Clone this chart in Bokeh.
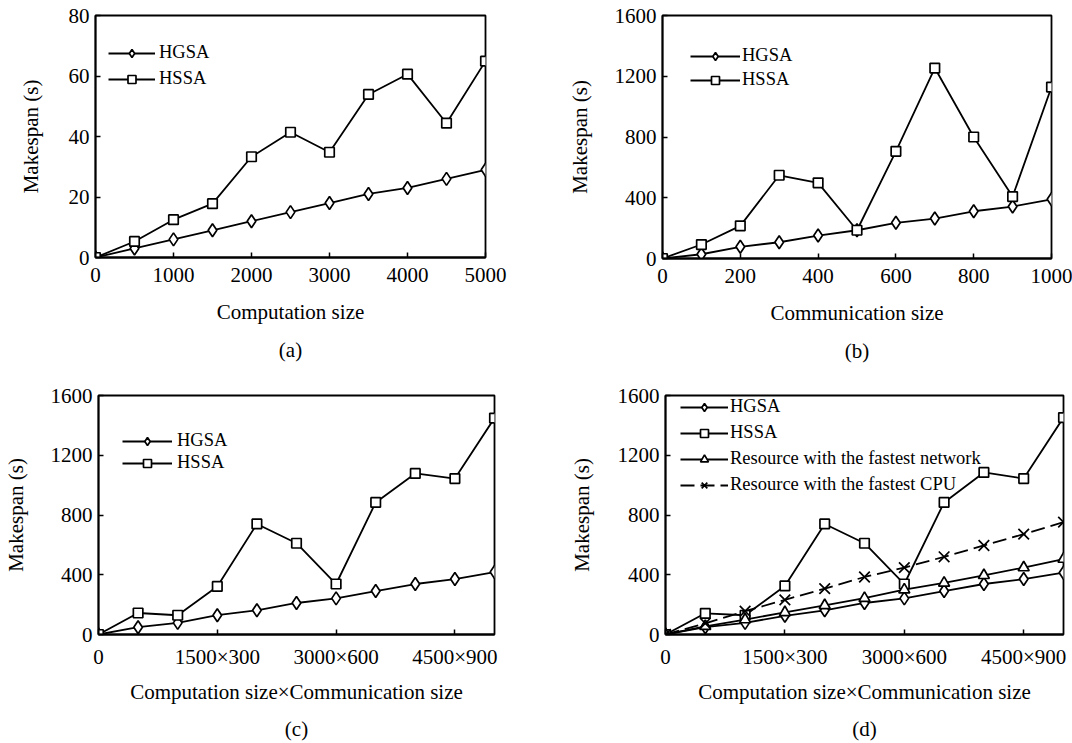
from bokeh.plotting import figure
from bokeh.models import Range1d, FixedTicker, Legend, LegendItem, Title
from bokeh.layouts import column, row
from bokeh.embed import file_html
from bokeh.resources import INLINE

# ---------------- data ----------------
comp_sizes = [0, 500, 1000, 1500, 2000, 2500, 3000, 3500, 4000, 4500, 5000]
hgsa_a = [0, 3, 6, 9, 12, 15, 18, 21, 23, 26, 29]
hssa_a = [0, 5.3, 12.5, 17.8, 33.3, 41.4, 34.8, 53.9, 60.6, 44.4, 64.9]

comm_sizes = [0, 100, 200, 300, 400, 500, 600, 700, 800, 900, 1000]
hgsa_b = [0, 28, 77, 107, 151, 186, 235, 263, 311, 342, 390]
hssa_b = [0, 92, 215, 548, 498, 186, 706, 1254, 800, 408, 1129]

prod_sizes = [0, 500, 1000, 1500, 2000, 2500, 3000, 3500, 4000, 4500, 5000]
hgsa_c = [0, 49, 78, 129, 162, 211, 242, 291, 338, 371, 418]
hssa_c = [0, 144, 129, 322, 740, 611, 338, 884, 1078, 1044, 1449]

hgsa_d = [0, 49, 78, 125, 162, 211, 242, 291, 338, 371, 414]
hssa_d = [0, 142, 129, 325, 740, 611, 338, 884, 1085, 1044, 1452]
net_d = [0, 55, 100, 148, 195, 243, 300, 345, 396, 448, 505]
cpu_d = [0, 75, 156, 232, 307, 385, 448, 520, 596, 672, 752]

x_ticks_a = [0, 1000, 2000, 3000, 4000, 5000]
x_ticks_b = [0, 200, 400, 600, 800, 1000]
x_ticks_cd = [0, 1500, 3000, 4500]
x_tick_labels_cd = ["0", "1500×300", "3000×600", "4500×900"]
y_ticks_a = [0, 20, 40, 60, 80]
y_ticks_big = [0, 400, 800, 1200, 1600]

series_names = ["HGSA", "HSSA", "Resource with the fastest network", "Resource with the fastest CPU"]
panel_labels = ["(a)", "(b)", "(c)", "(d)"]
x_titles = ["Computation size", "Communication size",
            "Computation size×Communication size", "Computation size×Communication size"]
y_title = "Makespan (s)"

FONT = "Liberation Serif"
LW = 1.8


def make_panel(fw, fh, borders, xr, yr, xticks, yticks, xtitle, ptitle,
               label_overrides=None, ylab_standoff=21, xlab_standoff=15, title_standoff=19):
    left, right, top, bottom = borders
    p = figure(frame_width=fw, frame_height=fh, x_range=Range1d(*xr), y_range=Range1d(*yr),
               output_backend="svg", toolbar_location=None, title=None,
               min_border_left=left, min_border_right=right,
               min_border_top=top, min_border_bottom=bottom)
    p.grid.visible = False
    p.background_fill_color = "white"
    p.border_fill_color = "white"
    p.outline_line_color = "black"
    p.outline_line_width = LW
    p.outline_line_alpha = 1.0
    p.xaxis.ticker = FixedTicker(ticks=xticks)
    p.yaxis.ticker = FixedTicker(ticks=yticks)
    if label_overrides:
        p.xaxis.major_label_overrides = label_overrides
    for ax in (p.xaxis, p.yaxis):
        ax.axis_line_width = LW
        ax.axis_line_color = "black"
        ax.major_tick_in = 5
        ax.major_tick_out = 0
        ax.major_tick_line_width = 1.5
        ax.minor_tick_line_color = None
        ax.major_label_text_font = FONT
        ax.major_label_text_font_size = "21px"
        ax.major_label_text_color = "black"
        ax.axis_label_text_font = FONT
        ax.axis_label_text_font_size = "21px"
        ax.axis_label_text_font_style = "normal"
        ax.axis_label_text_color = "black"
    p.xaxis.major_label_standoff = 10
    p.yaxis.major_label_standoff = 6
    p.xaxis.axis_label = xtitle
    p.xaxis.axis_label_standoff = xlab_standoff
    p.yaxis.axis_label = y_title
    p.yaxis.axis_label_standoff = ylab_standoff
    t = Title(text=ptitle, align="center", text_font=FONT, text_font_size="21px",
              text_font_style="normal", text_color="black", standoff=title_standoff)
    p.add_layout(t, "below")
    return p


def add_series(p, x, y, marker, size, dash="solid"):
    ln = p.line(x, y, line_color="black", line_width=LW, line_dash=dash)
    sc = p.scatter(x, y, marker=marker, size=size, fill_color="white",
                   line_color="black", line_width=1.7)
    return [ln, sc]


def add_legend(p, items, loc, spacing, glyph_width, standoff):
    lg = Legend(items=[LegendItem(label=n, renderers=r) for n, r in items],
                location=loc, padding=0, margin=0, spacing=spacing,
                glyph_width=glyph_width, glyph_height=20, label_height=20,
                label_standoff=standoff, label_text_font=FONT,
                label_text_font_size="18.5px", label_text_color="black",
                border_line_color=None, background_fill_alpha=0)
    p.add_layout(lg)


D_SIZE, S_SIZE, T_SIZE, X_SIZE = 13, 9.5, 11, 15

# ---------------- (a) ----------------
pa = make_panel(390, 242, (95, 79, 15, 123), (0, 5000), (0, 80), x_ticks_a, y_ticks_a,
                x_titles[0], panel_labels[0], ylab_standoff=23)
ra1 = add_series(pa, comp_sizes, hgsa_a, "diamond", D_SIZE)
ra2 = add_series(pa, comp_sizes, hssa_a, "square", S_SIZE)
add_legend(pa, [(series_names[0], ra1), (series_names[1], ra2)], (13, 168), 5, 47, 4)

# ---------------- (b) ----------------
pb = make_panel(389, 243, (95, 24, 15, 122), (0, 1000), (0, 1600), x_ticks_b, y_ticks_big,
                x_titles[1], panel_labels[1], ylab_standoff=20)
rb1 = add_series(pb, comm_sizes, hgsa_b, "diamond", D_SIZE)
rb2 = add_series(pb, comm_sizes, hssa_b, "square", S_SIZE)
add_legend(pb, [(series_names[0], rb1), (series_names[1], rb2)], (28, 168), 3, 50, 2)

# ---------------- (c) ----------------
overrides = {v: s for v, s in zip(x_ticks_cd, x_tick_labels_cd)}
pc = make_panel(396, 239, (98, 72, 15, 109), (0, 5000), (0, 1600), x_ticks_cd, y_ticks_big,
                x_titles[2], panel_labels[2], label_overrides=overrides,
                ylab_standoff=20, xlab_standoff=8, title_standoff=17)
rc1 = add_series(pc, prod_sizes, hgsa_c, "diamond", D_SIZE)
rc2 = add_series(pc, prod_sizes, hssa_c, "square", S_SIZE)
add_legend(pc, [(series_names[0], rc1), (series_names[1], rc2)], (24, 161), 1, 50, 5)

# ---------------- (d) ----------------
pd_ = make_panel(398, 239, (95, 13, 14, 110), (0, 5000), (0, 1600), x_ticks_cd, y_ticks_big,
                 x_titles[3], panel_labels[3], label_overrides=overrides,
                 ylab_standoff=21, xlab_standoff=8, title_standoff=17)
rd1 = add_series(pd_, prod_sizes, hgsa_d, "diamond", D_SIZE)
rd2 = add_series(pd_, prod_sizes, hssa_d, "square", S_SIZE)
rd3 = add_series(pd_, prod_sizes, net_d, "triangle", T_SIZE)
rd4 = add_series(pd_, prod_sizes, cpu_d, "x", X_SIZE, dash="14 6")
add_legend(pd_, [(series_names[0], rd1), (series_names[1], rd2),
                 (series_names[2], rd3), (series_names[3], rd4)], (15, 139), 5, 48, 2)

layout = column(row(pa, pb), row(pc, pd_))
open("out.html", "w").write(file_html(layout, INLINE))
